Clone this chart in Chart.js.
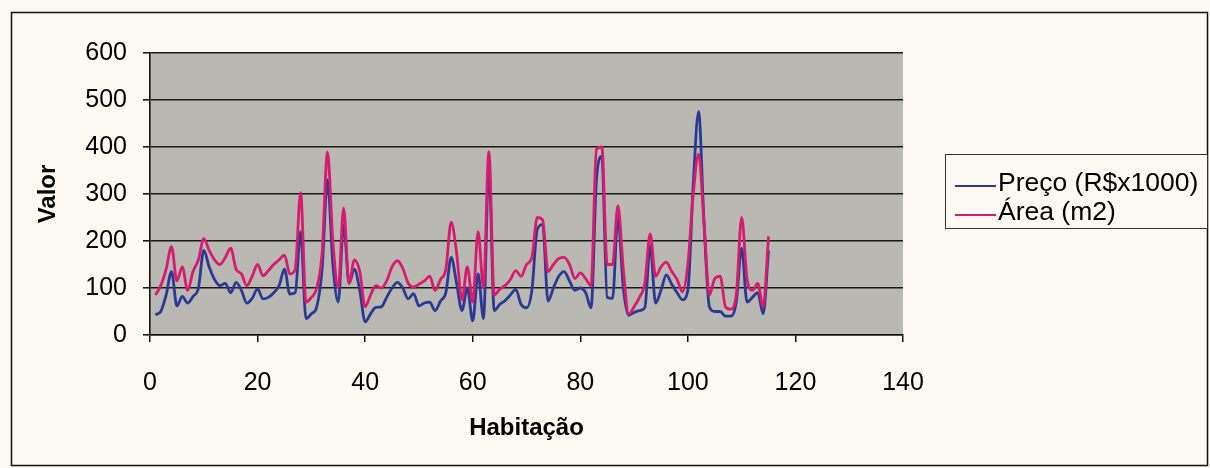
<!DOCTYPE html>
<html lang="pt-BR">
<head>
<meta charset="utf-8">
<title>Preço e área por habitação</title>
<script src="https://cdn.jsdelivr.net/npm/chart.js@4.4.1/dist/chart.umd.min.js"></script>
<style>
  html, body { margin: 0; padding: 0; background: #fbf9f1; }
  #wrap { position: relative; width: 1210px; height: 468px; }
</style>
</head>
<body>
<div id="wrap"><canvas id="grafico"></canvas></div>
<script>
// Número da habitação (1 a 115)
const habitacoes = Array.from({ length: 115 }, (_, i) => i + 1);

// Preço em R$ x 1000
const preco = [
  43, 50, 85, 135, 62, 82, 68, 82, 100, 180,
  145, 118, 105, 110, 90, 112, 95, 68, 78, 98,
  77, 80, 90, 105, 140, 87, 90, 220, 35, 45,
  60, 140, 330, 150, 70, 235, 110, 140, 95, 28,
  45, 59, 60, 80, 100, 112, 100, 77, 88, 62,
  68, 70, 52, 72, 90, 165, 110, 52, 100, 30,
  130, 35, 360, 52, 65, 73, 85, 97, 65, 58,
  95, 225, 235, 72, 100, 125, 135, 115, 95, 100,
  90, 58, 330, 380, 80, 78, 250, 100, 42, 48,
  52, 58, 190, 68, 95, 128, 108, 90, 75, 95,
  320, 475, 240, 60, 50, 50, 40, 40, 70, 185,
  70, 80, 90, 45, 180
];

// Área em m2
const area = [
  85, 105, 140, 188, 115, 145, 95, 135, 160, 205,
  180, 160, 150, 165, 185, 140, 130, 105, 125, 150,
  126, 137, 150, 160, 170, 130, 140, 303, 70, 80,
  100, 175, 389, 200, 100, 270, 110, 160, 135, 60,
  85, 105, 100, 115, 145, 158, 142, 110, 102, 108,
  115, 125, 95, 118, 140, 240, 175, 75, 145, 70,
  220, 100, 390, 85, 97, 105, 118, 137, 125, 150,
  165, 250, 245, 135, 150, 163, 165, 150, 120, 132,
  120, 105, 395, 400, 150, 150, 275, 140, 45, 60,
  80, 110, 215, 125, 145, 155, 135, 118, 92, 150,
  300, 385, 240, 85, 120, 125, 60, 55, 85, 250,
  120, 95, 110, 60, 210
];

const corPreco = '#2b3994';
const corArea = '#d81c6d';
const fonte = 'Arial, "Liberation Sans", sans-serif';

const pontos = valores => valores.map((v, i) => ({ x: habitacoes[i], y: v }));

// Fundo creme, moldura e área de plotagem cinza
const fundo = {
  id: 'fundo',
  beforeDraw(chart) {
    const { ctx, chartArea: a } = chart;
    ctx.save();
    ctx.fillStyle = '#fbf9f1';
    ctx.fillRect(0, 0, chart.width, chart.height);
    ctx.strokeStyle = '#111';
    ctx.lineWidth = 1.5;
    ctx.strokeRect(11.5, 12.5, 1196, 453);
    ctx.fillStyle = '#b9b8b2';
    ctx.fillRect(a.left, a.top, a.right - a.left, a.bottom - a.top);
    ctx.restore();
  }
};

// Legenda desenhada à direita, com caixa
const legenda = {
  id: 'legenda',
  afterDraw(chart) {
    const { ctx } = chart;
    const itens = [
      { texto: 'Preço (R$x1000)', cor: corPreco, y: 184 },
      { texto: 'Área (m2)', cor: corArea, y: 213 }
    ];
    ctx.save();
    ctx.fillStyle = '#fbf9f1';
    ctx.fillRect(945, 154, 263, 74);
    ctx.strokeStyle = '#333';
    ctx.lineWidth = 1;
    ctx.strokeRect(945.5, 154.5, 262, 74);
    ctx.font = '26.5px ' + fonte;
    ctx.textBaseline = 'middle';
    ctx.textAlign = 'left';
    itens.forEach(item => {
      ctx.strokeStyle = item.cor;
      ctx.lineWidth = 2;
      ctx.beginPath();
      ctx.moveTo(955, item.y + 2);
      ctx.lineTo(996, item.y + 2);
      ctx.stroke();
      ctx.fillStyle = '#000';
      ctx.fillText(item.texto, 998, item.y);
    });
    ctx.restore();
  }
};

const ctx = document.getElementById('grafico').getContext('2d');
const grafico = new Chart(ctx, {
  type: 'line',
  data: {
    datasets: [
      {
        label: 'Preço (R$x1000)',
        data: pontos(preco),
        borderColor: corPreco,
        borderWidth: 2.8,
        pointRadius: 0,
        cubicInterpolationMode: 'monotone',
        order: 1
      },
      {
        label: 'Área (m2)',
        data: pontos(area),
        borderColor: corArea,
        borderWidth: 2.8,
        pointRadius: 0,
        cubicInterpolationMode: 'monotone',
        order: 0
      }
    ]
  },
  options: {
    responsive: true,
    maintainAspectRatio: false,
    animation: false,
    devicePixelRatio: 1,
    layout: { padding: { left: 0, top: 53, right: 307, bottom: 0 } },
    plugins: {
      legend: { display: false },
      tooltip: { enabled: false }
    },
    scales: {
      x: {
        type: 'linear',
        min: 0,
        max: 140,
        afterFit: scale => { scale.height = 133; },
        ticks: {
          stepSize: 20,
          color: '#000',
          padding: 26,
          maxRotation: 0,
          font: { family: fonte, size: 25 }
        },
        grid: { drawOnChartArea: false, drawTicks: true, tickLength: 7, color: '#111', lineWidth: 1.5 },
        border: { display: true, color: '#111', width: 1.6 },
        title: {
          display: true,
          text: 'Habitação',
          color: '#000',
          padding: { top: 0, bottom: 25 },
          font: { family: fonte, size: 24, weight: 'bold' }
        }
      },
      y: {
        min: 0,
        max: 600,
        afterFit: scale => { scale.width = 150; },
        ticks: {
          stepSize: 100,
          color: '#000',
          padding: 16,
          font: { family: fonte, size: 25 }
        },
        grid: { color: '#1a1a1a', lineWidth: 1.6, tickLength: 7 },
        border: { display: true, color: '#111', width: 1.6 },
        title: {
          display: true,
          text: 'Valor',
          color: '#000',
          padding: { top: 34, bottom: 0 },
          font: { family: fonte, size: 24, weight: 'bold' }
        }
      }
    }
  },
  plugins: [fundo, legenda]
});
</script>
</body>
</html>
